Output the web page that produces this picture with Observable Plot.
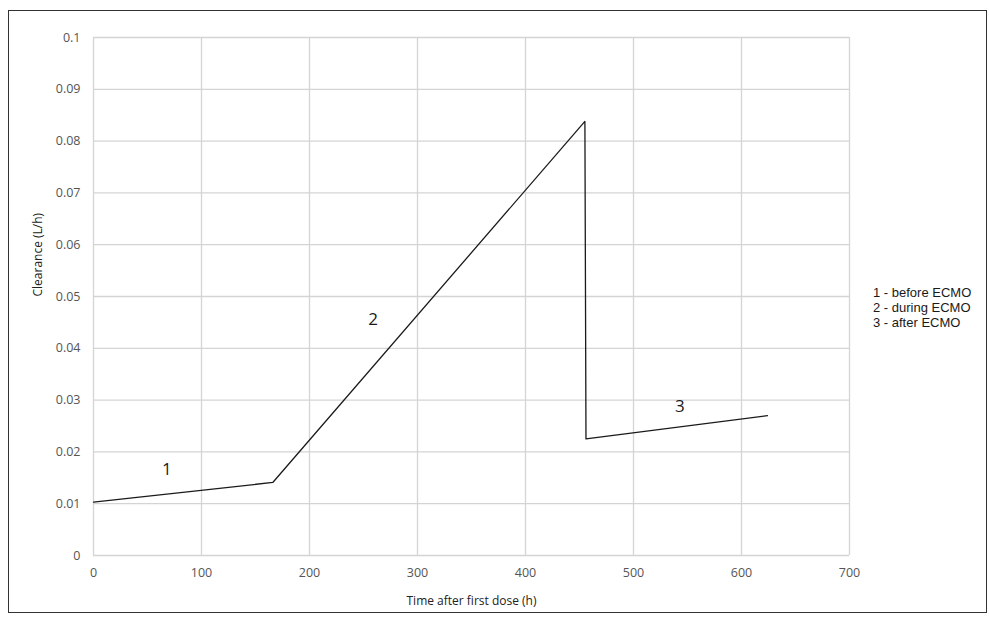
<!DOCTYPE html>
<html>
<head>
<meta charset="utf-8">
<script src="https://cdn.jsdelivr.net/npm/d3@7"></script>
<script src="https://cdn.jsdelivr.net/npm/@observablehq/plot@0.6"></script>
<style>
  html, body { margin: 0; padding: 0; background: #fff; }
  #wrap { position: relative; width: 989px; height: 624px; overflow: hidden; }
  #border { position: absolute; left: 8px; top: 10px; width: 979px; height: 603px; border: 1px solid #333; box-sizing: border-box; pointer-events: none; }
  #chart { position: absolute; left: 0; top: 0; }
  #legend { position: absolute; left: 873px; top: 285px; font-family: "Liberation Sans", Arial, sans-serif; font-size: 13px; line-height: 15px; color: #1a1a1a; }
  #legend div { height: 15px; }
</style>
</head>
<body>
<div id="wrap">
  <div id="chart"></div>
  <div id="border"></div>
  <div id="legend"></div>
</div>
<script>
const timeH = [0, 166, 455, 456, 624];
const clearance = [0.0103, 0.0141, 0.0838, 0.0225, 0.0270];
const labelText = ["1", "2", "3"];
const labelX = [68, 259, 543];
const labelY = [0.0165, 0.0455, 0.0288];
const xTicks = [0, 100, 200, 300, 400, 500, 600, 700];
const yTicks = [0, 0.01, 0.02, 0.03, 0.04, 0.05, 0.06, 0.07, 0.08, 0.09, 0.1];
const legendItems = ["1 - before ECMO", "2 - during ECMO", "3 - after ECMO"];

const points = timeH.map((t, i) => ({t, c: clearance[i]}));
const labels = labelText.map((s, i) => ({s, x: labelX[i], y: labelY[i]}));

const chart = Plot.plot({
  width: 989,
  height: 624,
  marginLeft: 93,
  marginRight: 140,
  marginTop: 37,
  marginBottom: 69,
  style: {fontFamily: "'Open Sans', sans-serif", fontSize: "12px", background: "transparent", color: "#595959"},
  x: {domain: [0, 700], ticks: xTicks, tickFormat: d => String(d), label: null},
  y: {domain: [0, 0.1], ticks: yTicks, tickFormat: d => String(+d.toFixed(2)), label: null},
  marks: [
    Plot.gridX(xTicks, {stroke: "#d4d4d4", strokeOpacity: 1, strokeWidth: 1.3}),
    Plot.gridY(yTicks, {stroke: "#d4d4d4", strokeOpacity: 1, strokeWidth: 1.3}),
    Plot.axisX({ticks: xTicks, tickSize: 0, tickPadding: 13, tickFormat: d => String(d), fill: "#555", fontSize: 12.5}),
    Plot.axisY({ticks: yTicks, tickSize: 0, tickPadding: 13, tickFormat: d => String(+d.toFixed(2)), fill: "#555", fontSize: 12.5}),
    Plot.line(points, {x: "t", y: "c", stroke: "#1a1a1a", strokeWidth: 1.3}),
    Plot.text(labels, {x: "x", y: "y", text: "s", fontSize: 17, fill: "#1a1a1a"}),
    Plot.text(["Time after first dose (h)"], {frameAnchor: "bottom", dy: 49, fontSize: 12, fill: "#222"}),
    Plot.text(["Clearance (L/h)"], {frameAnchor: "left", dx: -55, rotate: -90, fontSize: 12, fill: "#222"})
  ]
});
document.getElementById("chart").appendChild(chart);
const leg = document.getElementById("legend");
legendItems.forEach(s => { const d = document.createElement("div"); d.textContent = s; leg.appendChild(d); });
</script>
</body>
</html>
